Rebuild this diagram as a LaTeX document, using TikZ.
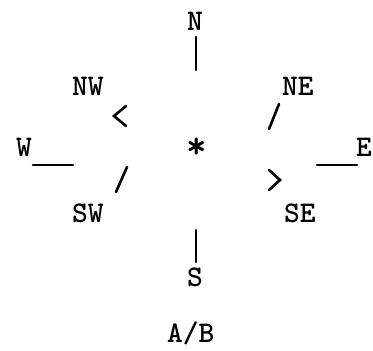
\documentclass[tikz,border=0pt]{standalone}
\usepackage{fontspec}
\usetikzlibrary{positioning}

\begin{document}
\begin{tikzpicture}[
  x=1pt, y=-1pt,
  lbl/.style={
    inner sep=0pt, anchor=base west,
    font=\fontsize{30}{30}\selectfont\ttfamily\bfseries\addfontfeature{LetterSpace=14}
  },
  glyphline/.style={line width=2.6pt, line cap=round, line join=miter}
]
\useasboundingbox (0,0) rectangle (373,351);

% letters
\node[lbl] (n)  at (187,30)  {N};
\node[lbl] (nw) at (72,95)   {NW};
\node[lbl] (ne) at (282,95)  {NE};
\node[lbl] (w)  at (16,156)  {W};
\node[lbl] (e)  at (356,156) {E};
\node[lbl, anchor=center, scale=1.3] (star) at (196.5,148) {*};
\node[lbl] (sw) at (72,222)  {SW};
\node[lbl] (se) at (284,222) {SE};
\node[lbl] (s)  at (187,286) {S};
\node[lbl] (ab) at (167,342) {A/B};

% stroke ends
\coordinate (nTop) at (196,37);   \coordinate (nBot) at (196,70);
\coordinate (sTop) at (196,230);  \coordinate (sBot) at (196,262);
\coordinate (wL) at (33,165);     \coordinate (wR) at (73,165);
\coordinate (eL) at (317,165);    \coordinate (eR) at (357,165);

\draw[glyphline] (nTop) -- (nBot);
\draw[glyphline] (sTop) -- (sBot);
\draw[glyphline] (wL) -- (wR);
\draw[glyphline] (eL) -- (eR);
\draw[glyphline] (126,106) -- (114,116) -- (126,126);
\draw[glyphline] (279,104) -- (269,129);
\draw[glyphline] (127,167) -- (116,192);
\draw[glyphline] (269,170) -- (280,180) -- (269,190);

\end{tikzpicture}
\end{document}
